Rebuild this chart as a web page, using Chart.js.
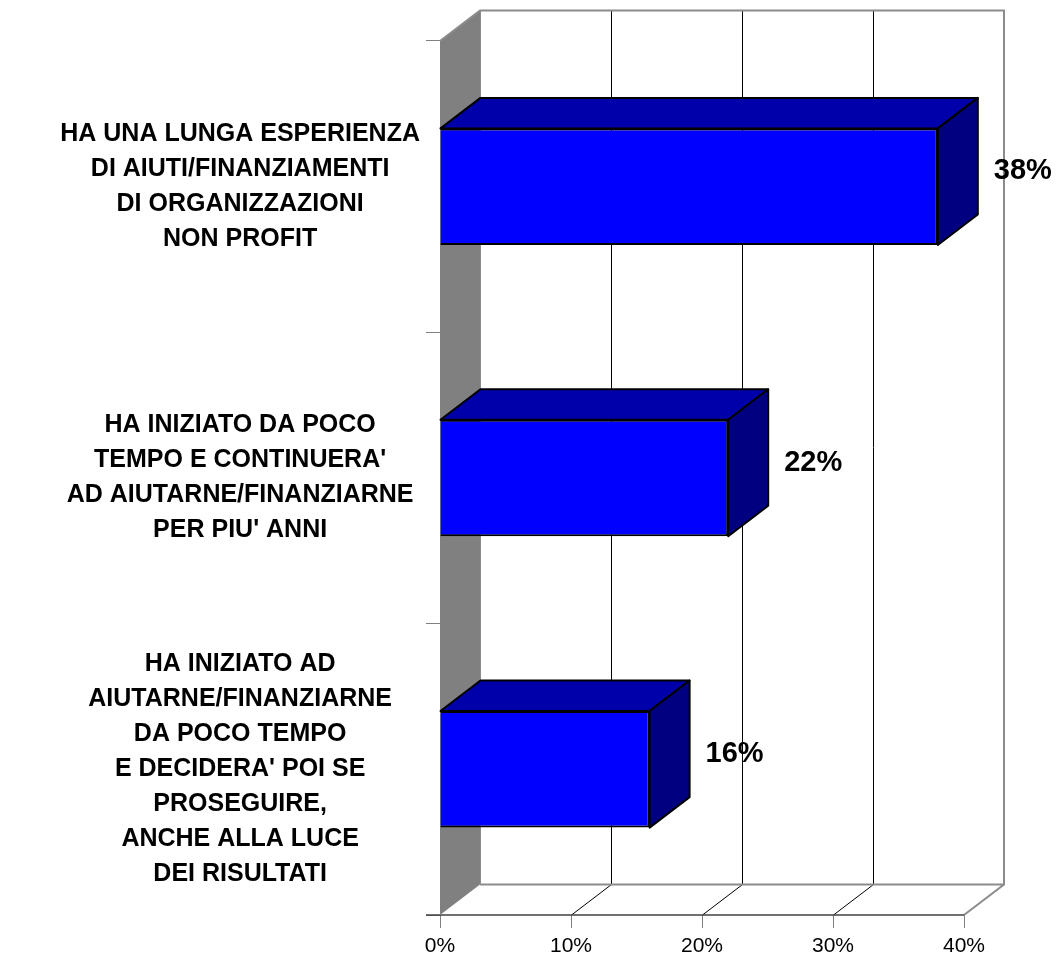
<!DOCTYPE html>
<html><head><meta charset="utf-8">
<script src="https://cdn.jsdelivr.net/npm/chart.js@4.4.1/dist/chart.umd.min.js"></script>
<style>html,body{margin:0;padding:0;background:#fff}#wrap{width:1060px;height:955px;position:relative}</style>
</head><body><div id="wrap"><canvas id="c"></canvas></div>
<script>
const categories = [
  ["HA UNA LUNGA ESPERIENZA","DI AIUTI/FINANZIAMENTI","DI ORGANIZZAZIONI","NON PROFIT"],
  ["HA INIZIATO DA POCO","TEMPO E CONTINUERA'","AD AIUTARNE/FINANZIARNE","PER PIU' ANNI"],
  ["HA INIZIATO AD","AIUTARNE/FINANZIARNE","DA POCO TEMPO","E DECIDERA' POI SE","PROSEGUIRE,","ANCHE ALLA LUCE","DEI RISULTATI"]
];
const values = [38, 22, 16];
const xTicks = [0, 10, 20, 30, 40];
const xTickLabels = ["0%", "10%", "20%", "30%", "40%"];

const DX = 40, DY = -30.5;
const FONT = '"Liberation Sans", Arial, sans-serif';
Chart.defaults.font.family = FONT;

const threeD = {
  id: 'threeD',
  beforeDatasetsDraw(chart) {
    const {ctx, chartArea: {left, right, top, bottom}, scales: {x}} = chart;
    ctx.save();
    ctx.fillStyle = '#ffffff';
    ctx.fillRect(left + DX, top + DY, right - left, bottom - top);
    ctx.beginPath();
    ctx.moveTo(left, bottom); ctx.lineTo(left + DX, bottom + DY);
    ctx.lineTo(right + DX, bottom + DY); ctx.lineTo(right, bottom); ctx.closePath();
    ctx.fill();
    ctx.fillStyle = '#808080';
    ctx.beginPath();
    ctx.moveTo(left, top); ctx.lineTo(left + DX, top + DY);
    ctx.lineTo(left + DX, bottom + DY); ctx.lineTo(left, bottom); ctx.closePath();
    ctx.fill();
    ctx.strokeStyle = '#000000'; ctx.lineWidth = 1;
    xTicks.forEach((v, i) => {
      if (i === 0 || i === xTicks.length - 1) return;
      const px = Math.round(x.getPixelForValue(v)) + 0.5;
      ctx.beginPath();
      ctx.moveTo(px + DX, top + DY); ctx.lineTo(px + DX, bottom + DY);
      ctx.stroke();
      ctx.beginPath();
      ctx.moveTo(px, bottom); ctx.lineTo(px + DX, bottom + DY);
      ctx.stroke();
    });
    ctx.strokeStyle = '#8c8c8c'; ctx.lineWidth = 2;
    ctx.beginPath();
    ctx.moveTo(left, top); ctx.lineTo(left + DX, top + DY);
    ctx.lineTo(right + DX, top + DY); ctx.lineTo(right + DX, bottom + DY);
    ctx.lineTo(right, bottom);
    ctx.moveTo(left + DX, bottom + DY); ctx.lineTo(right + DX, bottom + DY);
    ctx.stroke();
    ctx.lineWidth = 1;
    ctx.beginPath();
    ctx.moveTo(left + DX + 0.5, top + DY); ctx.lineTo(left + DX + 0.5, bottom + DY);
    ctx.stroke();
    ctx.strokeStyle = '#404040'; ctx.lineWidth = 1.5;
    ctx.beginPath();
    ctx.moveTo(left - 14, bottom); ctx.lineTo(right, bottom);
    ctx.stroke();
    ctx.strokeStyle = '#808080'; ctx.lineWidth = 1;
    ctx.beginPath();
    ctx.moveTo(left + 0.5, top); ctx.lineTo(left + 0.5, bottom);
    ctx.stroke();
    ctx.restore();
  },
  afterDatasetsDraw(chart) {
    const {ctx} = chart;
    const meta = chart.getDatasetMeta(0);
    ctx.save();
    meta.data.forEach((el, i) => {
      const p = el.getProps(['x', 'y', 'base', 'height'], true);
      const x0 = p.base, x1 = p.x, yT = p.y - p.height / 2, yB = p.y + p.height / 2;
      ctx.strokeStyle = '#000000'; ctx.lineWidth = 2; ctx.lineJoin = 'round';
      ctx.fillStyle = '#0000AA';
      ctx.beginPath();
      ctx.moveTo(x0, yT); ctx.lineTo(x0 + DX, yT + DY);
      ctx.lineTo(x1 + DX, yT + DY); ctx.lineTo(x1, yT); ctx.closePath();
      ctx.fill(); ctx.stroke();
      ctx.fillStyle = '#000080';
      ctx.beginPath();
      ctx.moveTo(x1, yT); ctx.lineTo(x1 + DX, yT + DY);
      ctx.lineTo(x1 + DX, yB + DY); ctx.lineTo(x1, yB); ctx.closePath();
      ctx.fill(); ctx.stroke();
      ctx.fillStyle = '#000000';
      ctx.font = 'bold 29px ' + FONT;
      ctx.textAlign = 'center'; ctx.textBaseline = 'middle';
      ctx.fillText(values[i] + '%', x1 + DX + 45, p.y + DY / 2);
    });
    ctx.restore();
  }
};

new Chart(document.getElementById('c'), {
  type: 'bar',
  data: {
    labels: categories,
    datasets: [{
      data: values,
      backgroundColor: '#0000FF',
      borderColor: '#000000',
      borderWidth: 2,
      barPercentage: 1,
      categoryPercentage: 0.4
    }]
  },
  options: {
    indexAxis: 'y',
    responsive: true,
    maintainAspectRatio: false,
    animation: false,
    layout: {padding: {left: 0, right: 96, top: 41, bottom: 0}},
    plugins: {legend: {display: false}, tooltip: {enabled: false}},
    scales: {
      x: {
        type: 'linear', min: 0, max: 40,
        afterBuildTicks(s) { s.ticks = xTicks.map(v => ({value: v})); },
        afterFit(s) { s.height = 40; s.paddingLeft = 0; s.paddingRight = 0; },
        ticks: {
          callback: (v) => { const i = xTicks.indexOf(v); return i >= 0 ? xTickLabels[i] : ''; },
          color: '#000', padding: 6, font: {size: 21}, maxRotation: 0
        },
        grid: {drawOnChartArea: false, drawTicks: true, tickLength: 13, color: '#808080'},
        border: {display: false}
      },
      y: {
        type: 'category', offset: true,
        afterFit(s) { s.width = 440; s.paddingTop = 0; s.paddingBottom = 0; },
        ticks: {
          crossAlign: 'center', padding: 6, color: '#000',
          font: {size: 25, weight: 'bold', lineHeight: 1.4}
        },
        grid: {offset: true, drawOnChartArea: false, drawTicks: true, tickLength: 14, color: '#808080'},
        border: {display: false}
      }
    }
  },
  plugins: [threeD]
});
</script></body></html>
